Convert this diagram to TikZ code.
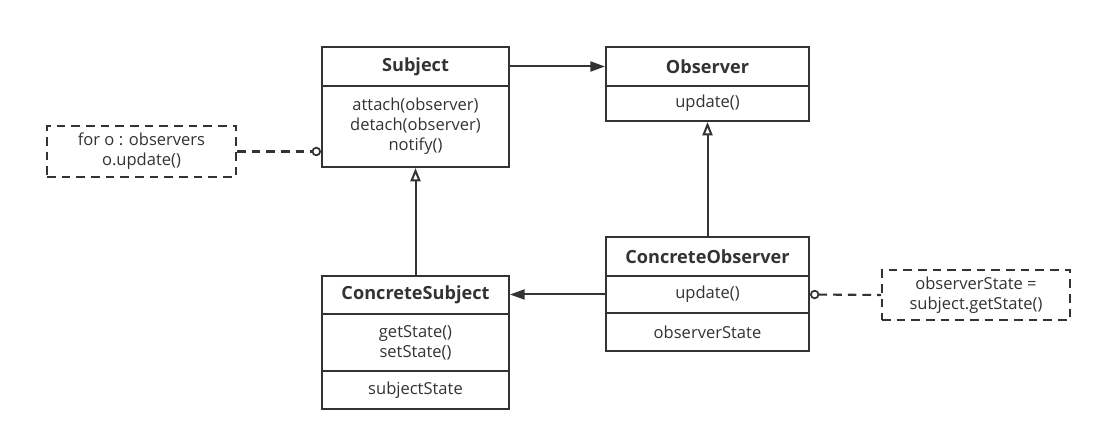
\documentclass[tikz,border=0pt]{standalone}
\usepackage{fontspec}
\setmainfont{Open Sans}
\usetikzlibrary{arrows.meta}
\definecolor{ink}{HTML}{333333}
\tikzset{
  px/.style={x=0.75pt,y=-0.75pt},
  comp/.style={draw=ink, line width=1.5pt, text=ink, inner sep=0pt, align=center, font=\fontsize{12.4}{15}\selectfont},
  title/.style={comp, font=\fontsize{13.6}{15}\selectfont\bfseries},
  note/.style={draw=ink, line width=1.5pt, dash pattern=on 6.5pt off 4.5pt, text=ink, inner sep=0pt, align=center, font=\fontsize{12.4}{15}\selectfont},
  assoc/.style={draw=ink, line width=1.5pt, -{Triangle[length=11pt,width=7.5pt]}},
  inherit/.style={draw=ink, line width=1.5pt, -{Triangle[open,length=10pt,width=7.5pt,fill=white]}},
  link/.style={draw=ink, line width=1.6pt, dash pattern=on 6.5pt off 4.5pt},
  knob/.tip={Circle[open,length=7pt,width=7pt,fill=white,line width=1.3pt,sep=0pt]}
}
\begin{document}
\begin{tikzpicture}[px]
\useasboundingbox[fill=white] (0,0) rectangle (1102,441);
% Subject
\node[title, minimum width=140.25pt, minimum height=29.25pt] (subjT) at (415.5,66.5) {Subject};
\node[comp, minimum width=140.25pt, minimum height=60.75pt] (subjB) at (415.5,126.5) {attach(observer)\\detach(observer)\\notify()};
% Observer
\node[title, minimum width=152.25pt, minimum height=29.25pt] (obsT) at (707.5,66.5) {Observer};
\node[comp, minimum width=152.25pt, minimum height=26.25pt] (obsB) at (707.5,103.5) {update()};
% ConcreteSubject
\node[title, minimum width=140.25pt, minimum height=28.5pt] (csubT) at (415.5,295) {ConcreteSubject};
\node[comp, minimum width=140.25pt, minimum height=42.75pt] (csubB) at (415.5,342.5) {getState()\\setState()};
\node[comp, minimum width=140.25pt, minimum height=28.5pt] (csubA) at (415.5,390) {subjectState};
% ConcreteObserver
\node[title, minimum width=152.25pt, minimum height=29.25pt] (cobsT) at (707.5,256.5) {ConcreteObserver};
\node[comp, minimum width=152.25pt, minimum height=27.75pt] (cobsB) at (707.5,294.5) {update()};
\node[comp, minimum width=152.25pt, minimum height=28.5pt] (cobsA) at (707.5,332) {observerState};
% notes
\node[note, minimum width=141.75pt, minimum height=38.25pt] (noteL) at (141.5,151.5) {for o : observers\\o.update()};
\node[note, minimum width=141pt, minimum height=37.5pt] (noteR) at (976,295) {observerState =\\subject.getState()};
% connectors
\draw[assoc] (subjT.east) -- (obsT.west);
\draw[assoc] (cobsB.west) -- (csubT.east |- cobsB.west);
\draw[inherit] (csubT.north) -- (subjB.south);
\draw[inherit] (cobsT.north) -- (obsB.south);
\draw[link, -knob] (noteL.east) -- (noteL.east -| subjB.west);
\draw[link, knob-] (cobsB.east) -- (noteR.west);
\end{tikzpicture}
\end{document}
